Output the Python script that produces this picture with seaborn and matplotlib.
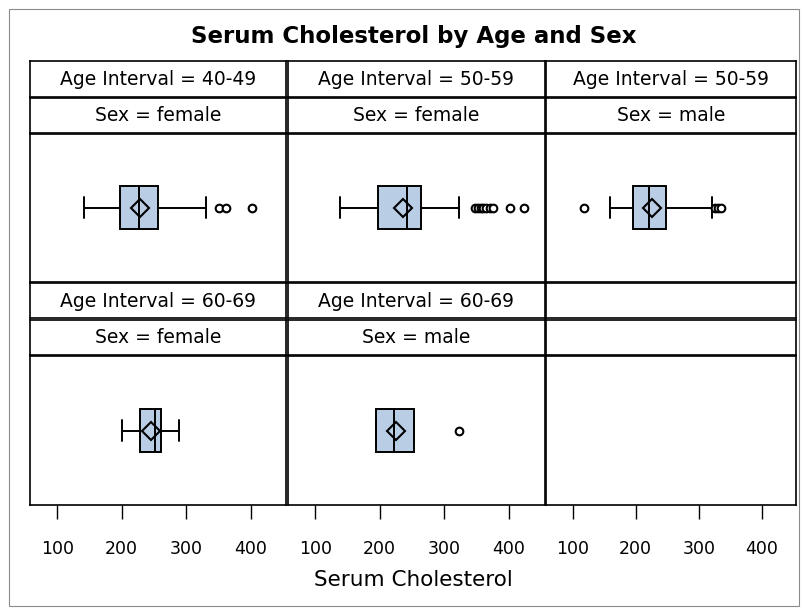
import matplotlib
matplotlib.use("Agg")
import matplotlib.pyplot as plt
from matplotlib.patches import Rectangle
import pandas as pd
import seaborn as sns

# ---------------- data ----------------
title = "Serum Cholesterol by Age and Sex"
x_label = "Serum Cholesterol"
age_labels = ["40-49", "50-59", "50-59", "60-69", "60-69"]
sex_labels = ["female", "female", "male", "female", "male"]
x_ticks = [100, 200, 300, 400]

chol_40_49_female = [141, 150, 153, 156, 160, 164, 168, 169, 197,
                     199, 201, 203, 205, 207, 209, 211, 226,
                     228, 229, 231, 233, 235, 237, 238, 256,
                     262, 270, 280, 292, 331, 351, 362, 401]
chol_50_59_female = [139, 141, 143, 145, 146, 147, 148, 149, 150, 151, 152, 153, 155, 159, 161,
                     198, 199, 200, 201, 202, 203, 205, 207, 209, 211, 214, 217, 221, 224, 227,
                     242, 242, 243, 243, 244, 244, 245, 245, 246, 246, 247, 248, 249, 250, 252,
                     264, 266, 270, 275, 280, 284, 322,
                     348, 352, 356, 360, 365, 370, 375, 402, 424]
chol_50_59_male = [119, 160, 165, 168, 170, 173, 176, 179, 182, 187, 196,
                   197, 199, 201, 203, 205, 207, 209, 211, 213, 222,
                   224, 226, 228, 230, 232, 234, 236, 238, 240, 248,
                   252, 260, 268, 280, 295, 320, 321, 326, 331, 335]
chol_60_69_female = [200, 212, 228, 236, 252, 256, 260, 273, 288]
chol_60_69_male = [194, 194, 194, 194, 196, 198, 222, 224, 226, 253, 253, 253, 322]

panel_values = [chol_40_49_female, chol_50_59_female, chol_50_59_male,
                chol_60_69_female, chol_60_69_male]
whisker_reach = [1.5, 1.0, 1.43, 1.5, 1.0]

rows = []
for age, sex, vals in zip(age_labels, sex_labels, panel_values):
    for v in vals:
        rows.append({"AgeInterval": age, "Sex": sex, "Cholesterol": v})
df = pd.DataFrame(rows)

# ---------------- style ----------------
sns.set_style("white")
plt.rcParams["font.family"] = ["DejaVu Sans"]
plt.rcParams["text.color"] = "black"
plt.rcParams["xtick.color"] = "black"
plt.rcParams["axes.labelcolor"] = "black"

W, H = 804, 610
fig = plt.figure(figsize=(W / 100, H / 100), dpi=100)
fig.patch.set_facecolor("white")


def ax_at(l, t, r, b):
    return fig.add_axes([l / W, 1 - b / H, (r - l) / W, (b - t) / H])


cols = [(30, 286.5), (288, 544.5), (546, 796.5)]
row_bands = [
    ((61, 96.5), (98, 132.5), (134, 281.5)),
    ((283, 318.5), (320, 354.5), (356, 505)),
]
XLIM = (58, 455)
BOX_COLOR = "#B9CDE5"
LW = 1.2

fig.patches.append(Rectangle((8.5 / W, 1 - 605.5 / H), 791 / W, 597 / H,
                             transform=fig.transFigure, fill=False,
                             edgecolor="#8c8c8c", linewidth=0.8))

fig.text(413.5 / W, 1 - 37 / H, title, ha="center", va="center",
         fontsize=16.5, fontweight="bold", color="black")

panel = 0
for ri, (h1, h2, pb) in enumerate(row_bands):
    for ci, (l, r) in enumerate(cols):
        has_data = panel < len(panel_values)
        for (t, b), txt in zip((h1, h2),
                               (f"Age Interval = {age_labels[panel]}" if has_data else "",
                                f"Sex = {sex_labels[panel]}" if has_data else "")):
            hax = ax_at(l, t, r, b)
            hax.set_xticks([])
            hax.set_yticks([])
            for s in hax.spines.values():
                s.set_linewidth(LW)
                s.set_color("black")
            hax.text(0.5, 0.48, txt, ha="center", va="center", color="black",
                     transform=hax.transAxes, fontsize=13.5)
        ax = ax_at(l, pb[0], r, pb[1])
        if has_data:
            sub = df[(df["AgeInterval"] == age_labels[panel]) & (df["Sex"] == sex_labels[panel])]
            sns.boxplot(data=sub, x="Cholesterol", ax=ax, whis=whisker_reach[panel],
                        width=0.29, color=BOX_COLOR, saturation=1, linecolor="black",
                        linewidth=1.4, showmeans=True,
                        meanprops=dict(marker="D", markerfacecolor="none",
                                       markeredgecolor="black", markersize=9.5,
                                       markeredgewidth=1.5),
                        flierprops=dict(marker="o", markerfacecolor="white",
                                        markeredgecolor="black", markersize=5.5,
                                        markeredgewidth=1.5))
        ax.set_xlim(*XLIM)
        ax.set_ylim(0.5, -0.5)
        ax.set_yticks([])
        ax.set_ylabel("")
        ax.set_xlabel("")
        for s in ax.spines.values():
            s.set_linewidth(LW)
            s.set_color("black")
            s.set_visible(True)
        if ri == 1:
            ax.set_xticks(x_ticks)
            ax.set_xticklabels([str(t) for t in x_ticks])
            ax.tick_params(axis="x", bottom=True, direction="out", length=10,
                           width=1.0, color="black", labelcolor="black",
                           pad=15, labelsize=12.5)
        else:
            ax.set_xticks([])
        panel += 1

fig.text(413.5 / W, 1 - 580 / H, x_label, ha="center", va="center",
         fontsize=15.5, color="black")

fig.savefig("out.png", dpi=100)
